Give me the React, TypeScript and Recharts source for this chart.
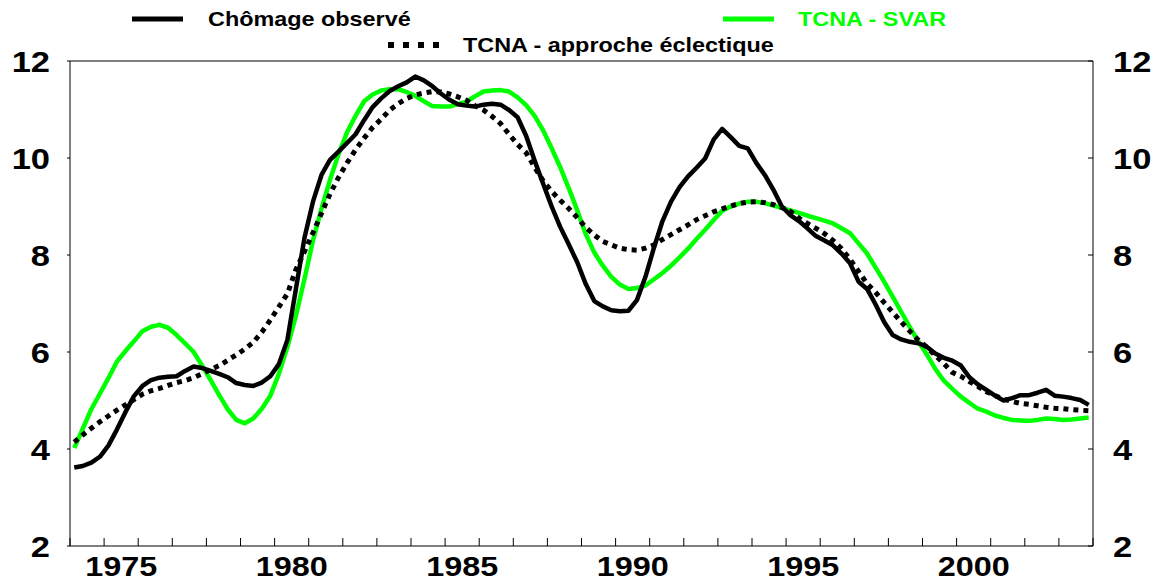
import React from "react";
import { LineChart, Line, XAxis, YAxis, ReferenceLine } from "recharts";

// Quarterly series, 1974Q1 - 2003Q4 (one row of 4 values per year)
const years = [
  1974, 1975, 1976, 1977, 1978, 1979, 1980, 1981, 1982, 1983, 1984, 1985, 1986, 1987, 1988,
  1989, 1990, 1991, 1992, 1993, 1994, 1995, 1996, 1997, 1998, 1999, 2000, 2001, 2002, 2003,
];

const chomageObserve = [
  3.62, 3.65, 3.72, 3.84, 4.07, 4.4, 4.76, 5.09, 5.3, 5.42, 5.47, 5.49,
  5.5, 5.61, 5.7, 5.67, 5.61, 5.55, 5.48, 5.36, 5.32, 5.3, 5.37, 5.5,
  5.75, 6.25, 7.3, 8.35, 9.1, 9.65, 9.96, 10.13, 10.31, 10.49, 10.78, 11.05,
  11.23, 11.38, 11.48, 11.56, 11.68, 11.6, 11.48, 11.33, 11.2, 11.11, 11.08, 11.06,
  11.1, 11.12, 11.1, 10.99, 10.84, 10.46, 9.95, 9.47, 9.0, 8.58, 8.22, 7.85,
  7.4, 7.05, 6.94, 6.86, 6.84, 6.85, 7.07, 7.55, 8.15, 8.7, 9.1, 9.4,
  9.62, 9.8, 9.99, 10.38, 10.6, 10.43, 10.25, 10.2, 9.9, 9.65, 9.35, 9.0,
  8.82, 8.7, 8.55, 8.39, 8.3, 8.2, 8.03, 7.83, 7.45, 7.3, 6.98, 6.62,
  6.35, 6.26, 6.21, 6.18, 6.11, 5.97, 5.88, 5.82, 5.72, 5.48, 5.33, 5.22,
  5.1, 5.0, 5.05, 5.11, 5.11, 5.16, 5.22, 5.1, 5.08, 5.05, 5.01, 4.91,
];

const tcnaSvar = [
  4.02, 4.42, 4.82, 5.14, 5.46, 5.8, 6.02, 6.22, 6.43, 6.52, 6.56, 6.5,
  6.35, 6.18, 6.0, 5.72, 5.42, 5.11, 4.82, 4.6, 4.53, 4.63, 4.83, 5.1,
  5.55, 6.1, 6.75, 7.5, 8.3, 8.95, 9.55, 10.08, 10.53, 10.87, 11.17, 11.31,
  11.39, 11.42, 11.42, 11.36, 11.28, 11.17, 11.07, 11.06, 11.06, 11.11, 11.16, 11.27,
  11.37, 11.39, 11.4, 11.37, 11.25, 11.09, 10.87, 10.57, 10.2, 9.81, 9.38, 8.92,
  8.43, 8.05, 7.78, 7.55, 7.39, 7.3, 7.32, 7.37, 7.5, 7.63, 7.78, 7.95,
  8.13, 8.33, 8.52, 8.72, 8.91, 9.0, 9.06, 9.1, 9.1, 9.07, 9.02, 8.97,
  8.92, 8.87, 8.81, 8.76, 8.71, 8.65, 8.55, 8.45, 8.24, 8.03, 7.74, 7.45,
  7.14, 6.83, 6.52, 6.22, 5.95, 5.65, 5.41, 5.24, 5.08, 4.95, 4.83, 4.77,
  4.69, 4.64, 4.6, 4.59, 4.58, 4.6, 4.63, 4.62, 4.6, 4.61, 4.63, 4.65,
];

const tcnaEclectique = [
  4.14, 4.29, 4.43, 4.56, 4.68, 4.8, 4.91, 5.02, 5.13, 5.2, 5.25, 5.31,
  5.37, 5.41, 5.47, 5.55, 5.64, 5.72, 5.83, 5.94, 6.06, 6.2, 6.41, 6.66,
  6.93, 7.2, 7.7, 8.07, 8.46, 8.86, 9.26, 9.6, 9.9, 10.17, 10.41, 10.63,
  10.8, 10.99, 11.12, 11.23, 11.3, 11.34, 11.37, 11.36, 11.32, 11.26, 11.19, 11.08,
  10.99, 10.86, 10.71, 10.49, 10.28, 10.11, 9.81, 9.53, 9.31, 9.13, 8.96, 8.77,
  8.57, 8.41, 8.28, 8.21, 8.14, 8.11, 8.1, 8.14, 8.21, 8.32, 8.42, 8.52,
  8.62, 8.73, 8.81, 8.89, 8.95, 9.01, 9.06, 9.09, 9.1, 9.08, 9.04, 8.98,
  8.9, 8.76, 8.65, 8.55, 8.44, 8.3, 8.13, 7.91, 7.66, 7.41, 7.23, 7.02,
  6.82, 6.62, 6.43, 6.25, 6.1, 5.93, 5.76, 5.58, 5.5, 5.39, 5.29, 5.18,
  5.1, 5.03, 4.98, 4.94, 4.92, 4.89, 4.86, 4.84, 4.83, 4.81, 4.8, 4.79,
];

const yearTicks = [
  1974, 1975, 1976, 1977, 1978, 1979, 1980, 1981, 1982, 1983, 1984, 1985, 1986, 1987, 1988,
  1989, 1990, 1991, 1992, 1993, 1994, 1995, 1996, 1997, 1998, 1999, 2000, 2001, 2002, 2003, 2004,
];
const yearLabels = [1975, 1980, 1985, 1990, 1995, 2000];
const yTicks = [2, 4, 6, 8, 10, 12];

const GREEN = "#00ff00";
const FONT = "'Liberation Sans', Arial, Helvetica, sans-serif";

// each quarter is placed in the middle of its quarter on the time axis
const rows = years.flatMap((year, yi) =>
  [0, 1, 2, 3].map((q) => {
    const i = yi * 4 + q;
    return {
      t: year + (q + 0.5) / 4,
      obs: chomageObserve[i],
      svar: tcnaSvar[i],
      ecl: tcnaEclectique[i],
    };
  })
);

// year tick marks point inward, labels sit in the middle of the year
const xTickValues = [...yearTicks, ...yearLabels.map((y) => y + 0.5)];

const XTick = (props: any) => {
  const { x, y, payload } = props;
  const v = payload.value;
  if (Number.isInteger(v)) {
    return <line x1={x} x2={x} y1={y - 8} y2={y} stroke="#000" strokeWidth={1} />;
  }
  return (
    <text
      transform={`translate(${x},${y + 30}) scale(1.2,1)`}
      textAnchor="middle"
      fontFamily={FONT}
      fontWeight="bold"
      fontSize={27}
      fill="#000"
    >
      {Math.floor(v)}
    </text>
  );
};

const YTick = (props: any) => {
  const { x, y, payload, side } = props;
  return (
    <text
      transform={`translate(${x},${y + 11}) scale(1.15,1)`}
      textAnchor={side === "left" ? "end" : "start"}
      fontFamily={FONT}
      fontWeight="bold"
      fontSize={30}
      fill="#000"
    >
      {payload.value}
    </text>
  );
};

function LegendOverlay() {
  const txt = (x: number, y: number, label: string, color: string) => (
    <text
      transform={`translate(${x},${y}) scale(1.2,1)`}
      fontFamily={FONT}
      fontWeight="bold"
      fontSize={19.5}
      fill={color}
    >
      {label}
    </text>
  );
  return (
    <svg
      width={1163}
      height={60}
      style={{ position: "absolute", left: 0, top: 0, pointerEvents: "none" }}
    >
      <line x1={132} x2={183} y1={19} y2={19} stroke="#000" strokeWidth={5} />
      {txt(208, 26, "Chômage observé", "#000")}
      <line x1={723} x2={774} y1={19} y2={19} stroke={GREEN} strokeWidth={5} />
      {txt(798, 26, "TCNA - SVAR", GREEN)}
      <line x1={388} x2={440} y1={45} y2={45} stroke="#000" strokeWidth={6} strokeDasharray="6 9" />
      {txt(463, 52, "TCNA - approche éclectique", "#000")}
    </svg>
  );
}

export default function App() {
  return (
    <div
      style={{
        position: "fixed",
        left: 0,
        top: 0,
        width: 1163,
        height: 582,
        background: "#fff",
      }}
    >
      <LineChart
        width={1163}
        height={582}
        data={rows}
        margin={{ top: 61, right: 0, bottom: 0, left: 0 }}
      >
        <XAxis
          dataKey="t"
          type="number"
          domain={[1974, 2004]}
          ticks={xTickValues}
          interval={0}
          height={36}
          tickSize={0}
          tickMargin={0}
          tickLine={false}
          tick={<XTick />}
          axisLine={{ stroke: "#000", strokeWidth: 1 }}
          allowDataOverflow
        />
        <YAxis
          yAxisId="left"
          domain={[2, 12]}
          ticks={yTicks}
          interval={0}
          width={70}
          tickSize={3}
          tickMargin={17}
          tick={<YTick side="left" />}
          tickLine={{ stroke: "#000" }}
          axisLine={{ stroke: "#000", strokeWidth: 1 }}
          allowDataOverflow
        />
        <YAxis
          yAxisId="right"
          orientation="right"
          domain={[2, 12]}
          ticks={yTicks}
          interval={0}
          width={70}
          tickSize={-5}
          tickMargin={25}
          tick={<YTick side="right" />}
          tickLine={{ stroke: "#000" }}
          axisLine={{ stroke: "#000", strokeWidth: 1 }}
          allowDataOverflow
        />
        <ReferenceLine yAxisId="left" y={12} stroke="#000" strokeWidth={1} />
        <Line
          yAxisId="left"
          dataKey="svar"
          stroke={GREEN}
          strokeWidth={4.5}
          dot={false}
          strokeLinejoin="round"
          isAnimationActive={false}
        />
        <Line
          yAxisId="left"
          dataKey="obs"
          stroke="#000"
          strokeWidth={4.5}
          dot={false}
          strokeLinejoin="round"
          isAnimationActive={false}
        />
        <Line
          yAxisId="left"
          dataKey="ecl"
          stroke="#000"
          strokeWidth={5}
          strokeDasharray="5 5"
          dot={false}
          isAnimationActive={false}
        />
      </LineChart>
      <LegendOverlay />
    </div>
  );
}
